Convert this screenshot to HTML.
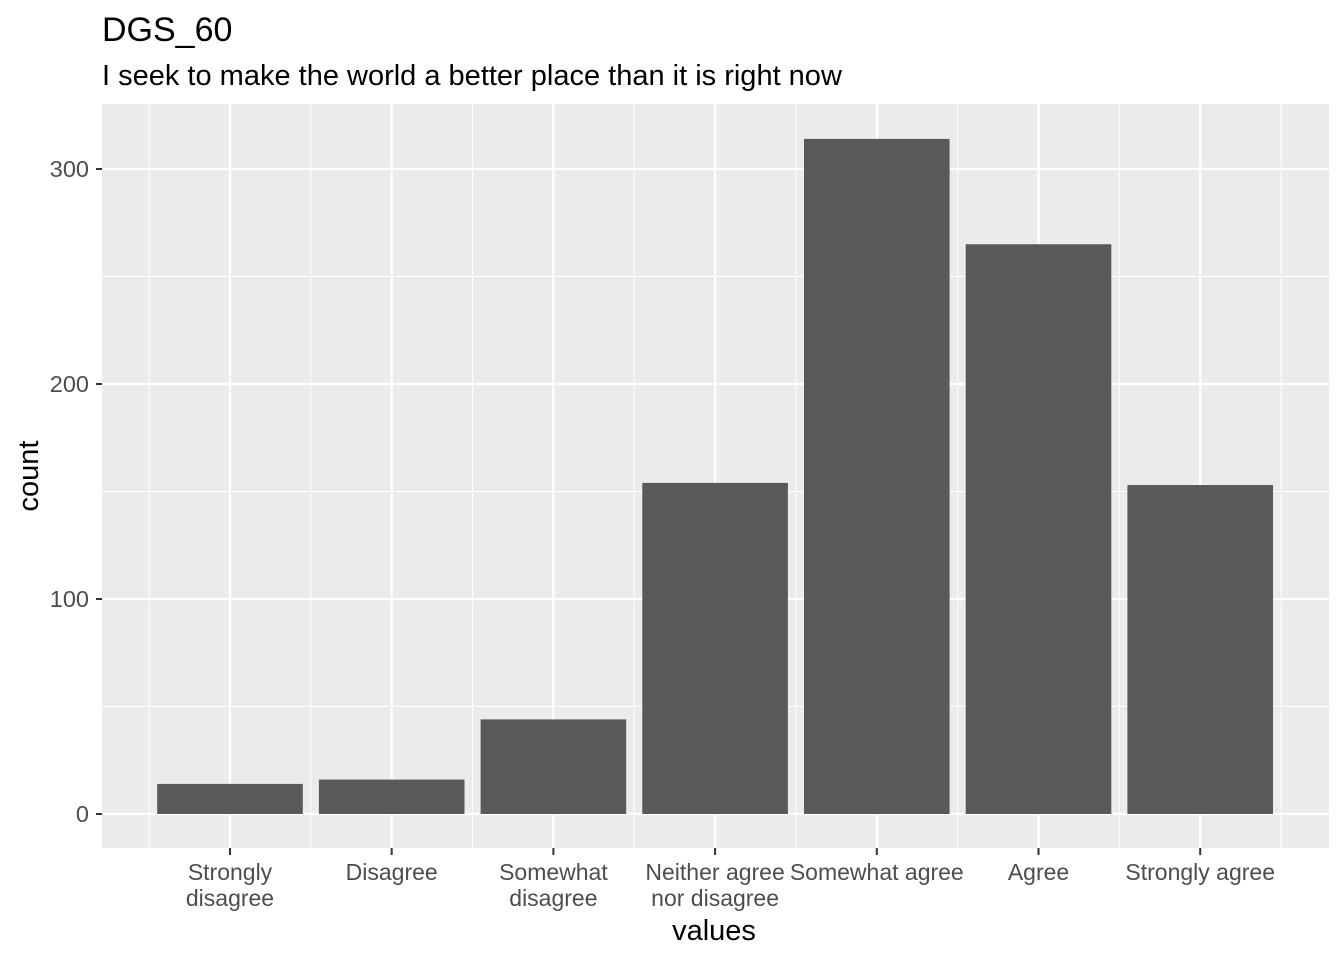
<!DOCTYPE html>
<html><head><meta charset="utf-8"><style>
body{margin:0;background:#fff;font-family:"Liberation Sans",Arial,sans-serif}
</style></head><body>
<svg width="1344" height="960" xmlns="http://www.w3.org/2000/svg" font-family="Liberation Sans, Arial, sans-serif">
<text x="102" y="41" font-size="34" fill="#000">DGS_60</text>
<text x="102" y="85" font-size="29" fill="#000">I seek to make the world a better place than it is right now</text>
<rect x="102" y="104" width="1227" height="744" fill="#ebebeb"/>
<g id="grid"></g>
<g id="bars"></g>
<g id="axes"></g>
<text x="714" y="940" font-size="29" text-anchor="middle" fill="#000">values</text>
<text transform="translate(38,476) rotate(-90)" font-size="29" text-anchor="middle" fill="#000">count</text>
</svg>
<script>
const categories=[["Strongly","disagree"],["Disagree"],["Somewhat","disagree"],["Neither agree","nor disagree"],["Somewhat agree"],["Agree"],["Strongly agree"]];
const counts=[14,16,44,154,314,265,153];
const yTicks=[0,100,200,300];
const yMinor=[50,150,250];
const NS="http://www.w3.org/2000/svg";
const y0=814,pxPer=2.15;
function xs(i){return 230+i*161.7;}
function ys(v){return y0-v*pxPer;}
function mk(t,a,p){const e=document.createElementNS(NS,t);for(const k in a)e.setAttribute(k,a[k]);p.appendChild(e);return e;}
const g=document.getElementById('grid'),b=document.getElementById('bars'),ax=document.getElementById('axes');
yMinor.forEach(v=>{const l=mk('line',{x1:102,x2:1329,y1:ys(v),y2:ys(v),stroke:'#fff','stroke-width':1},g);

});
for(let i=-1;i<categories.length;i++){const x=xs(i)+80.85;const l=mk('line',{x1:x,x2:x,y1:104,y2:848,stroke:'#fff','stroke-width':1},g);

}
yTicks.forEach(v=>{const l=mk('line',{x1:102,x2:1329,y1:ys(v),y2:ys(v),stroke:'#fff','stroke-width':2.2},g);


const t=mk('line',{x1:96,x2:102,y1:ys(v),y2:ys(v),stroke:'#333','stroke-width':2},ax);


const tx=mk('text',{x:89,y:ys(v)+8,'font-size':23.5,'text-anchor':'end',fill:'#4d4d4d'},ax);tx.textContent=v;

});
categories.forEach((c,i)=>{const x=xs(i);
const l=mk('line',{x1:x,x2:x,y1:104,y2:848,stroke:'#fff','stroke-width':2.2},g);


const r=mk('rect',{x:x-72.8,y:ys(counts[i]),width:145.6,height:counts[i]*pxPer,fill:'#595959'},b);


const t=mk('line',{x1:x,x2:x,y1:848,y2:855,stroke:'#333','stroke-width':2},ax);


const tx=mk('text',{'font-size':23,'text-anchor':'middle',fill:'#4d4d4d'},ax);


c.forEach((s,j)=>{const ts=mk('tspan',{x:x,y:880+j*26},tx);ts.textContent=s;});});
</script>
</body></html>
